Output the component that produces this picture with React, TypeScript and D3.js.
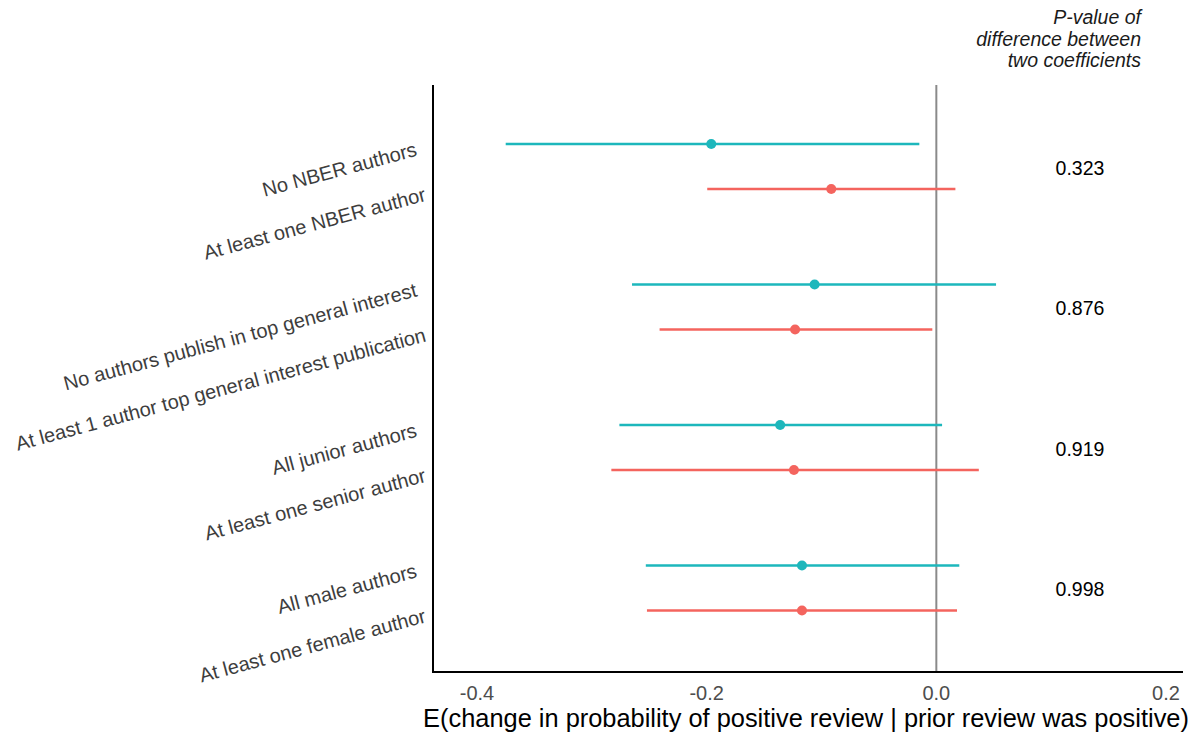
import React from "react";
import * as d3 from "d3";

const groups = ["NBER", "TopGI", "Seniority", "Gender"];
const rowLabels = [
  "No NBER authors",
  "At least one NBER author",
  "No authors publish in top general interest",
  "At least 1 author top general interest publication",
  "All junior authors",
  "At least one senior author",
  "All male authors",
  "At least one female author",
];
const rowGroup = ["NBER", "NBER", "TopGI", "TopGI", "Seniority", "Seniority", "Gender", "Gender"];
const rowKind = ["a", "b", "a", "b", "a", "b", "a", "b"];
const estimates = [-0.196, -0.0915, -0.106, -0.123, -0.136, -0.124, -0.117, -0.117];
const lowers = [-0.375, -0.1995, -0.265, -0.241, -0.276, -0.283, -0.253, -0.252];
const uppers = [-0.0148, 0.0166, 0.052, -0.0035, 0.005, 0.037, 0.02, 0.018];
const pValues = ["0.323", "0.876", "0.919", "0.998"];
const xTicks = [-0.4, -0.2, 0.0, 0.2];
const headerLines = ["P-value of", "difference between", "two coefficients"];

const colors: Record<string, string> = { a: "#1DB7BC", b: "#F4645E" };

export default function App() {
  const W = 1204;
  const H = 736;
  const left = 433;
  const right = 1183;
  const top = 85;
  const bottom = 672;

  const x = d3.scaleLinear().domain([-0.4, 0.2]).range([477, 1166]);
  const yGroup = d3.scaleBand().domain(groups).range([96.25, 658.25]).paddingInner(0);
  const yKind = d3.scalePoint().domain(["a", "b"]).range([-22.5, 22.5]);
  const yRow = (i: number) => (yGroup(rowGroup[i]) as number) + yGroup.bandwidth() / 2 + (yKind(rowKind[i]) as number);

  const sans = "'Liberation Sans', Arial, Helvetica, sans-serif";

  return (
    <svg width={W} height={H} style={{ position: "absolute", left: 0, top: 0, background: "#fff" }}>
      {/* header */}
      <g fontFamily={sans} fontStyle="italic" fontSize={19.5} fill="#1a1a1a" textAnchor="end">
        {headerLines.map((t, i) => (
          <text key={t} x={1141} y={24 + i * 21.5}>
            {t}
          </text>
        ))}
      </g>
      {/* zero line */}
      <line x1={x(0)} x2={x(0)} y1={top} y2={bottom} stroke="#8a8a8a" strokeWidth={2} />
      {/* error bars */}
      {rowLabels.map((_, i) => (
        <g key={i}>
          <line
            x1={x(lowers[i])}
            x2={x(uppers[i])}
            y1={yRow(i)}
            y2={yRow(i)}
            stroke={colors[rowKind[i]]}
            strokeWidth={2.6}
          />
          <circle cx={x(estimates[i])} cy={yRow(i)} r={5} fill={colors[rowKind[i]]} />
        </g>
      ))}
      {/* p-values */}
      <g fontFamily={sans} fontSize={19.5} fill="#000" textAnchor="middle">
        {groups.map((g, i) => (
          <text key={g} x={1080} y={(yGroup(g) as number) + yGroup.bandwidth() / 2 + 8}>
            {pValues[i]}
          </text>
        ))}
      </g>
      {/* axes */}
      <line x1={left} x2={left} y1={top} y2={bottom + 1} stroke="#000" strokeWidth={2} />
      <line x1={left - 1} x2={right} y1={bottom} y2={bottom} stroke="#000" strokeWidth={2} />
      {/* x tick labels */}
      <g fontFamily={sans} fontSize={20} fill="#4d4d4d" textAnchor="middle">
        {xTicks.map((t) => (
          <text key={t} x={x(t)} y={700}>
            {d3.format(".1f")(t).replace("−", "-")}
          </text>
        ))}
      </g>
      <text x={806} y={727} fontFamily={sans} fontSize={25.4} fill="#000" textAnchor="middle">
        E(change in probability of positive review | prior review was positive)
      </text>
      {/* y labels */}
      <g fontFamily={sans} fontSize={20} fill="#3d3d3d" textAnchor="end">
        {rowLabels.map((l, i) => (
          <text
            key={l}
            transform={`translate(${rowKind[i] === "a" ? 418 : 427},${yRow(i) + 11.5}) rotate(-15)`}
          >
            {l}
          </text>
        ))}
      </g>
    </svg>
  );
}
